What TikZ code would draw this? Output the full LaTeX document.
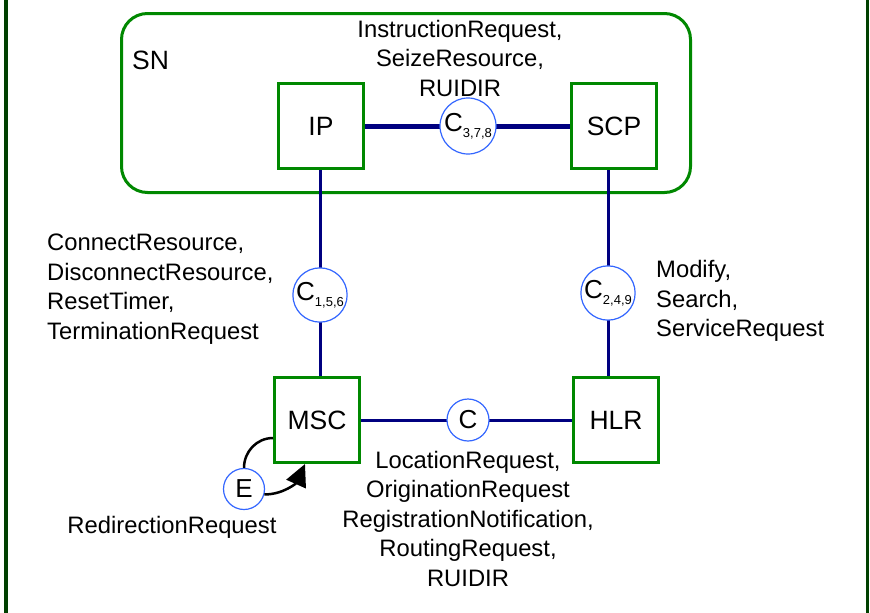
\documentclass[tikz,border=0pt]{standalone}
\usepackage{fontspec}
\setmainfont{Liberation Sans}
\usetikzlibrary{arrows.meta}
\definecolor{boxgreen}{RGB}{0,136,0}
\definecolor{edgegreen}{RGB}{0,64,0}
\definecolor{linknavy}{RGB}{0,0,128}
\definecolor{ringblue}{RGB}{51,102,255}
\newcommand\msgfont{\fontsize{23.8}{29.5}\selectfont}
\newcommand\entfont{\fontsize{26.5}{30}\selectfont}
\newcommand\ringfont{\fontsize{26}{30}\selectfont}
\newcommand\ringsub[1]{\raisebox{-6pt}{\fontsize{13}{13}\selectfont #1}}
\begin{document}
\begin{tikzpicture}[x=1pt,y=-1pt,
  entity/.style={draw=boxgreen, line width=3pt, fill=white, inner sep=0pt, minimum size=85pt, font=\entfont},
  ring/.style={circle, draw=ringblue, line width=1.2pt, fill=white, inner sep=0pt, font=\ringfont},
  msg/.style={inner sep=0pt, font=\msgfont},
  link/.style={draw=linknavy, line width=3pt},
  loopline/.style={draw=black, line width=2.5pt}
]
\useasboundingbox (0,0) rectangle (870,613);
% side borders
\draw[edgegreen, line width=4pt] (6,0) -- (6,613);
\draw[edgegreen, line width=3.5pt] (867.5,0) -- (867.5,613);
% SN area
\node[draw=boxgreen, line width=3pt, rounded corners=26pt, minimum width=569pt, minimum height=179pt, inner sep=0pt] (SN) at (406,103) {};
\node[anchor=base west, inner sep=0pt, font=\entfont] (SNlabel) at (132,69) {SN};
% entities
\node[entity] (IP)  at (321,126) {IP};
\node[entity] (SCP) at (614,126) {SCP};
\node[entity] (MSC) at (317,420) {MSC};
\node[entity] (HLR) at (616,420) {HLR};
% links
\draw[link, line width=5pt] (IP.east) -- (SCP.west);
\draw[link] ([xshift=-1pt]IP.south) -- ([xshift=-1pt]IP.south |- MSC.north);
\draw[link] ([xshift=-6pt]SCP.south) -- ([xshift=-6pt]SCP.south |- HLR.north);
\draw[link] (MSC.east) -- (HLR.west);
% rings
\node[ring, minimum size=56pt] (C378) at (468,126) {C\ringsub{3,7,8}};
\node[ring, minimum size=54pt] (C156) at (320,295) {C\ringsub{1,5,6}};
\node[ring, minimum size=54pt] (C249) at (608,293) {C\ringsub{2,4,9}};
\node[ring, minimum size=42pt] (C)    at (468,420) {C};
\node[ring, minimum size=41pt] (E)    at (244,489) {E};
% redirection loop
\draw[loopline] ([yshift=-18pt]MSC.west) to[out=180,in=90] (E.north);
\draw[loopline, -{Triangle[length=22pt,width=21pt]}] (E.-15) to[out=0,in=-114] ([xshift=-12pt]MSC.south);
% messages
\node[msg, align=center] (m1) at (460,58) {InstructionRequest,\\SeizeResource,\\RUIDIR};
\node[msg, align=left, anchor=west] (m2) at (47,289) {ConnectResource,\\DisconnectResource,\\ResetTimer,\\TerminationRequest};
\node[msg, align=left, anchor=west] (m3) at (656,301) {Modify,\\Search,\\ServiceRequest};
\node[msg, align=center] (m4) at (468,518.5) {LocationRequest,\\OriginationRequest\\RegistrationNotification,\\RoutingRequest,\\RUIDIR};
\node[msg, anchor=base] (m5) at (172,533) {RedirectionRequest};
\end{tikzpicture}
\end{document}
